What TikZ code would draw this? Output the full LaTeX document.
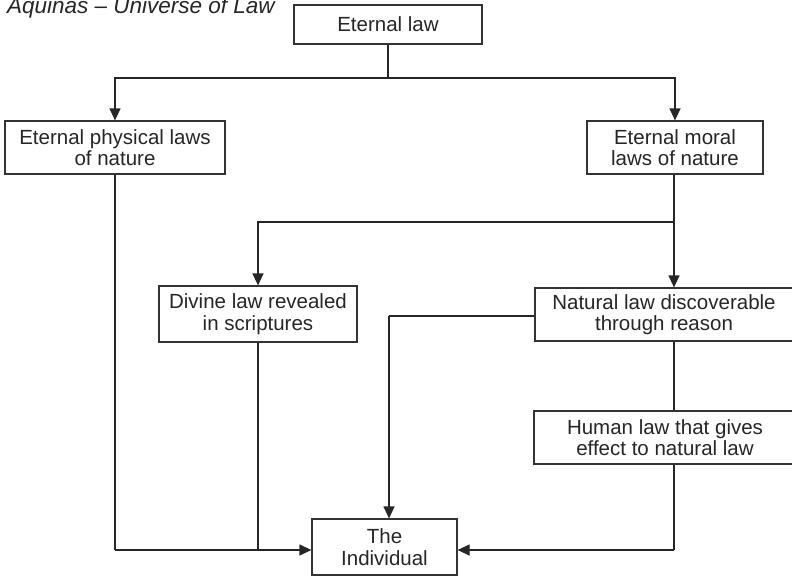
\documentclass[tikz,border=0pt]{standalone}
\usepackage{fontspec}
\setmainfont{Liberation Sans}
\usetikzlibrary{arrows.meta,calc}
\begin{document}
\begin{tikzpicture}[x=1pt,y=1pt,
  lawbox/.style={draw=black!80, line width=1.2pt, fill=white, inner sep=0pt, align=center,
    font=\fontsize{20.5}{21.5}\selectfont, text=black!85},
  conn/.style={draw=black!85, line width=1.2pt},
  arr/.style={conn, -{Triangle[length=12pt,width=11pt]}}]
\useasboundingbox (0,0) rectangle (792,-576);
\node[anchor=base east, inner sep=0pt, font=\fontsize{22.5}{23}\selectfont\itshape, text=black!85] (title) at (275,-13) {Aquinas – Universe of Law};
\node[lawbox, minimum width=188, minimum height=39] (eternal) at (388,-24.5) {Eternal law};
\node[lawbox, minimum width=220, minimum height=53] (phys) at (115,-147.5) {Eternal physical laws\\of nature};
\node[lawbox, minimum width=176, minimum height=53] (moral) at (675,-147.5) {Eternal moral\\laws of nature};
\node[lawbox, minimum width=198, minimum height=56] (divine) at (258,-314) {Divine law revealed\\in scriptures};
\node[lawbox, minimum width=258, minimum height=53] (natural) at (664,-314.5) {Natural law discoverable\\through reason};
\node[lawbox, minimum width=262, minimum height=53] (human) at (665,-437.5) {Human law that gives\\effect to natural law};
\node[lawbox, minimum width=145, minimum height=56] (indiv) at (384.5,-547) {The\\Individual};
\coordinate (j1) at (388,-78);
\coordinate (j2) at (674,-222);
\coordinate (j3) at (389,-316);
\coordinate (j4) at (115,-550);
\coordinate (j5) at (258,-550);
\coordinate (j6) at (674,-550);
\draw[arr] (eternal.south) -- (j1) -| (phys.north);
\draw[arr] (j1) -| (moral.north);
\draw[conn] (moral.south -| j2) -- (j2);
\draw[arr] (j2) -| (divine.north);
\draw[arr] (j2) -- (j2 |- natural.north);
\draw[conn] (natural.west |- j3) -- (j3);
\draw[arr] (j3) -- (j3 |- indiv.north);
\draw[conn] (natural.south -| j2) -- (human.north -| j2);
\draw[conn] (human.south -| j6) -- (j6);
\draw[arr] (j6) -- (indiv.east |- j6);
\draw[conn] (phys.south) -- (j4);
\draw[arr] (j4) -- (indiv.west |- j4);
\draw[conn] (divine.south) -- (j5);
\end{tikzpicture}
\end{document}
